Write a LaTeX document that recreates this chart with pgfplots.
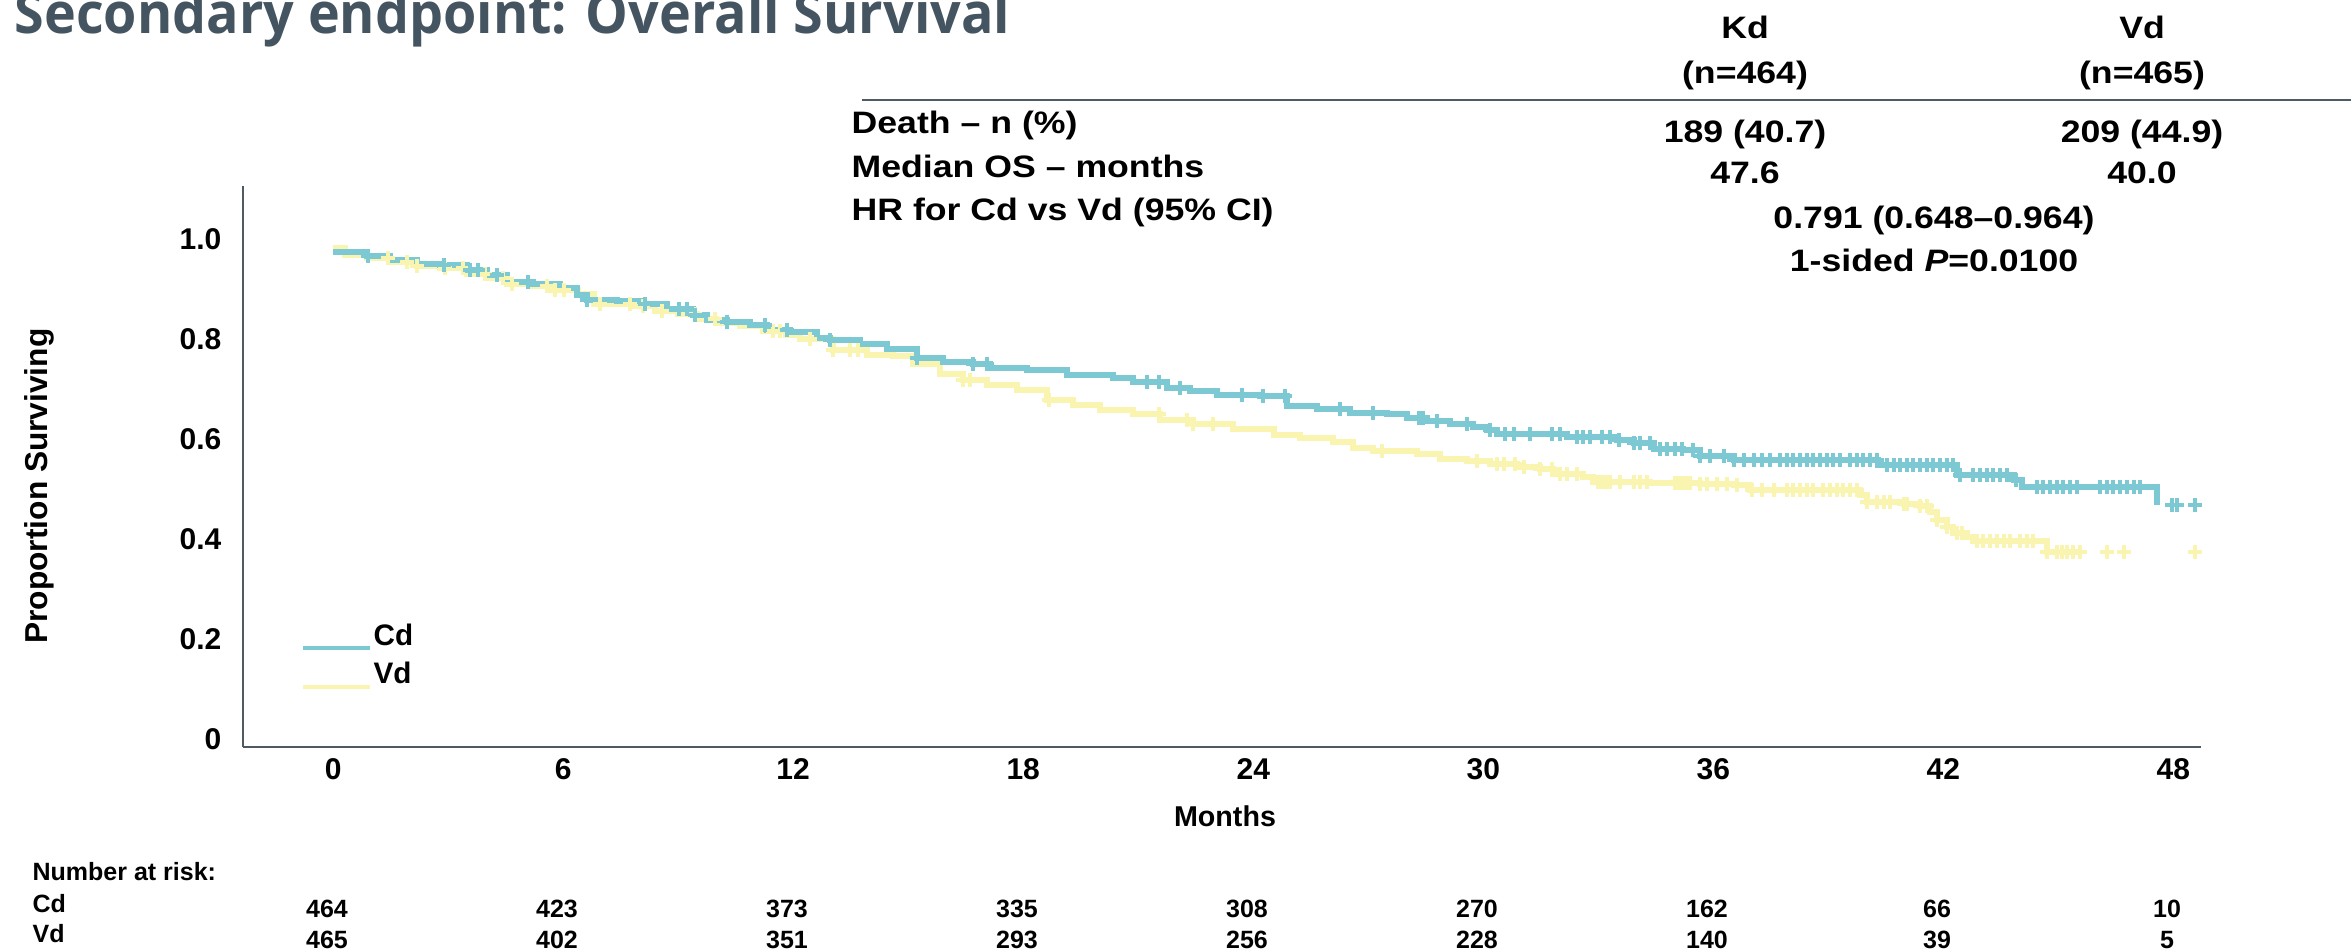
\documentclass[border=0pt]{standalone}
\usepackage{fontspec}
\setmainfont{Liberation Sans}
\newfontfamily\titlefont[FakeStretch=0.95]{Open Sans}
\newfontfamily\tablefont[FakeStretch=1.15]{Liberation Sans}
\usepackage{pgfplots}
\pgfplotsset{compat=1.18}
\usepackage{pgfplotstable}
\definecolor{cdcol}{RGB}{125,201,211}
\definecolor{vdcol}{RGB}{249,245,176}
\definecolor{axiscol}{RGB}{78,90,100}
\definecolor{titlecol}{RGB}{68,84,96}

\pgfplotstableread{
m S
0 0.991
0.88 0.982
1.49 0.975
2.18 0.967
2.79 0.964
3.49 0.954
4.01 0.944
4.53 0.931
5.22 0.927
5.92 0.919
6.36 0.904
6.62 0.895
7.40 0.893
8.09 0.886
8.70 0.877
9.40 0.864
9.75 0.855
10.27 0.851
10.88 0.844
11.31 0.835
11.92 0.831
12.62 0.819
12.96 0.815
13.75 0.807
14.44 0.797
15.22 0.779
15.92 0.771
16.70 0.767
17.14 0.759
18.09 0.754
19.13 0.744
20.35 0.739
20.87 0.731
21.74 0.719
22.35 0.713
23.05 0.704
24.18 0.702
24.87 0.682
25.66 0.677
26.53 0.669
27.48 0.667
28.00 0.659
28.53 0.653
29.13 0.647
29.74 0.641
30.09 0.635
30.35 0.626
32.18 0.621
33.48 0.614
33.92 0.609
34.44 0.597
35.22 0.594
35.66 0.582
36.53 0.574
40.30 0.564
42.35 0.544
43.83 0.534
44.04 0.521
47.57 0.484
}\cdcurve

\pgfplotstableread{
m S
0.92 0.982
2.88 0.964
3.57 0.954
3.79 0.954
4.27 0.944
5.09 0.931
6.62 0.895
8.14 0.886
9.01 0.877
9.22 0.877
9.44 0.864
10.27 0.851
11.27 0.844
11.83 0.835
12.96 0.815
15.22 0.779
16.70 0.767
17.05 0.767
21.22 0.731
21.55 0.731
22.09 0.719
23.70 0.704
24.26 0.702
24.83 0.702
26.26 0.677
27.13 0.669
28.31 0.659
28.44 0.659
28.79 0.653
29.57 0.647
30.18 0.635
30.57 0.626
30.79 0.626
31.22 0.626
31.79 0.626
32.00 0.626
32.44 0.621
32.61 0.621
32.79 0.621
33.09 0.621
33.30 0.621
33.55 0.614
33.92 0.609
34.10 0.609
34.35 0.609
34.60 0.597
34.80 0.597
35.00 0.597
35.17 0.597
35.48 0.594
35.66 0.582
35.92 0.582
36.27 0.582
36.53 0.574
36.79 0.574
37.05 0.574
37.27 0.574
37.49 0.574
37.75 0.574
37.92 0.574
38.09 0.574
38.26 0.574
38.44 0.574
38.61 0.574
38.78 0.574
38.96 0.574
39.13 0.574
39.30 0.574
39.57 0.574
39.74 0.574
39.91 0.574
40.09 0.574
40.26 0.574
40.52 0.564
40.70 0.564
40.87 0.564
41.04 0.564
41.22 0.564
41.39 0.564
41.57 0.564
41.74 0.564
41.91 0.564
42.09 0.564
42.26 0.564
42.43 0.544
42.78 0.544
42.96 0.544
43.13 0.544
43.30 0.544
43.48 0.544
43.65 0.544
43.90 0.534
44.43 0.521
44.61 0.521
44.78 0.521
44.96 0.521
45.13 0.521
45.30 0.521
45.48 0.521
46.09 0.521
46.26 0.521
46.43 0.521
46.61 0.521
46.78 0.521
46.96 0.521
47.13 0.521
47.96 0.484
48.09 0.484
48.56 0.484
}\cdcens

\pgfplotstableread{
m S
0 0.998
0.30 0.985
0.88 0.978
1.49 0.970
2.18 0.962
2.79 0.958
3.49 0.947
4.01 0.938
4.53 0.926
5.22 0.922
5.70 0.914
6.40 0.906
6.80 0.886
7.80 0.882
8.40 0.872
9.00 0.866
9.50 0.856
10.00 0.848
10.60 0.842
11.20 0.832
11.80 0.825
12.18 0.817
13.04 0.794
13.92 0.785
14.61 0.782
15.13 0.767
15.83 0.747
16.44 0.735
17.05 0.724
17.83 0.714
18.61 0.694
19.31 0.684
20.00 0.674
20.87 0.667
21.57 0.654
22.44 0.647
23.48 0.637
24.53 0.624
25.22 0.619
26.09 0.611
26.61 0.599
27.13 0.593
28.27 0.586
28.87 0.577
29.57 0.573
30.18 0.567
30.87 0.561
31.48 0.557
31.83 0.547
32.61 0.541
32.87 0.531
34.35 0.529
35.66 0.527
36.53 0.524
36.96 0.514
39.83 0.504
40.00 0.491
40.96 0.487
41.39 0.482
41.65 0.471
41.83 0.454
42.09 0.441
42.26 0.429
42.61 0.421
42.78 0.413
44.70 0.391
45.60 0.391
}\vdcurve

\pgfplotstableread{
m S
1.44 0.978
1.92 0.970
2.18 0.962
2.92 0.958
3.40 0.958
3.96 0.947
4.44 0.938
4.66 0.926
5.57 0.922
5.79 0.914
6.01 0.914
6.96 0.886
7.75 0.886
8.09 0.882
8.57 0.872
9.44 0.866
9.96 0.856
11.48 0.832
11.66 0.832
12.44 0.817
13.04 0.794
13.48 0.794
13.70 0.794
16.44 0.735
16.61 0.735
18.66 0.694
21.53 0.667
22.27 0.654
22.44 0.647
22.96 0.647
27.35 0.593
29.83 0.573
30.35 0.567
30.53 0.567
30.83 0.567
31.05 0.561
31.48 0.557
31.79 0.557
32.00 0.547
32.18 0.547
32.44 0.547
33.00 0.531
33.10 0.531
33.20 0.531
33.30 0.531
33.57 0.531
33.92 0.531
34.10 0.531
34.27 0.531
35.00 0.529
35.10 0.529
35.20 0.529
35.30 0.529
35.40 0.529
35.66 0.527
35.83 0.527
36.09 0.527
36.35 0.527
36.61 0.524
37.00 0.514
37.27 0.514
37.57 0.514
37.91 0.514
38.09 0.514
38.26 0.514
38.44 0.514
38.61 0.514
38.87 0.514
39.04 0.514
39.22 0.514
39.39 0.514
39.57 0.514
39.74 0.514
40.00 0.491
40.26 0.491
40.44 0.491
40.61 0.491
40.96 0.487
41.04 0.487
41.39 0.482
41.57 0.482
41.83 0.454
42.09 0.441
42.35 0.429
42.48 0.429
42.87 0.413
43.04 0.413
43.22 0.413
43.39 0.413
43.57 0.413
43.74 0.413
44.00 0.413
44.17 0.413
44.35 0.413
44.70 0.391
44.96 0.391
45.09 0.391
45.22 0.391
45.39 0.391
45.57 0.391
46.26 0.391
46.70 0.391
48.56 0.391
}\vdcens

\begin{document}
\begin{tikzpicture}
\useasboundingbox (0,0) rectangle (705.3pt,-285pt);
\begin{axis}[
  at={(72.9pt,-224.1pt)}, anchor=south west,
  scale only axis, width=587.4pt, height=168.3pt,
  xmin=-2.35, xmax=48.72, ymin=0, ymax=1.122,
  axis x line=bottom, axis y line=left,
  axis line style={-, draw=axiscol, line width=0.8pt},
  xtick={0,6,12,18,24,30,36,42,48},
  xticklabels={0,6,12,18,24,30,36,42,48},
  ytick={0,0.2,0.4,0.6,0.8,1.0},
  yticklabels={0,0.2,0.4,0.6,0.8,1.0},
  major tick length=0pt,
  tick style={draw=none},
  xticklabel style={font=\bfseries\fontsize{9}{10}\selectfont, anchor=north, inner sep=0pt, yshift=-3.3pt},
  yticklabel style={font=\bfseries\fontsize{9}{10}\selectfont, anchor=east, inner sep=0pt, xshift=-6.3pt, yshift=2.4pt},
]
\addplot[vdcol, line width=1.8pt, const plot, mark=none] table[x=m,y=S] {\vdcurve};
\addplot[vdcol, only marks, mark=+, mark size=2.1pt, mark options={line width=1.2pt}] table[x=m,y=S] {\vdcens};
\addplot[cdcol, line width=1.8pt, const plot, mark=none] table[x=m,y=S] {\cdcurve};
\addplot[cdcol, only marks, mark=+, mark size=2.1pt, mark options={line width=1.2pt}] table[x=m,y=S] {\cdcens};
\end{axis}
\begin{scope}[x=0.3pt,y=-0.3pt]
% title (cut off at the top, as in the original slide)
\node[anchor=base west, inner sep=0pt, text=titlecol, font=\titlefont\bfseries\fontsize{17}{19}\selectfont] at (14,33) {Secondary endpoint: Overall Survival};
% table
\begin{scope}[every node/.style={inner sep=0pt, font=\tablefont\bfseries\fontsize{9.3}{11}\selectfont}]
\node[anchor=base] at (1745,38) {Kd};
\node[anchor=base] at (1745,83) {(n=464)};
\node[anchor=base] at (2142,38) {Vd};
\node[anchor=base] at (2142,83) {(n=465)};
\node[anchor=base west] at (851,133) {Death \textendash{} n (\%)};
\node[anchor=base west] at (851,177) {Median OS \textendash{} months};
\node[anchor=base west] at (851,220) {HR for Cd vs Vd (95\% CI)};
\node[anchor=base] at (1745,142) {189 (40.7)};
\node[anchor=base] at (2142,142) {209 (44.9)};
\node[anchor=base] at (1745,183) {47.6};
\node[anchor=base] at (2142,183) {40.0};
\node[anchor=base] at (1934,228) {0.791 (0.648\textendash0.964)};
\node[anchor=base] at (1934,271) {1-sided \textit{P}=0.0100};
\end{scope}
\draw[axiscol, line width=0.8pt] (862,100) -- (2351,100);
% axis titles
\node[rotate=90, anchor=base, inner sep=0pt, font=\bfseries\fontsize{9.5}{11}\selectfont] at (47,486) {Proportion Surviving};
\node[anchor=base, inner sep=0pt, font=\bfseries\fontsize{8.6}{10}\selectfont] at (1225,826) {Months};
% legend
\draw[cdcol, line width=1.4pt] (303,648) -- (370,648);
\draw[vdcol, line width=1.4pt] (303,687) -- (370,687);
\node[anchor=base west, inner sep=0pt, font=\bfseries\fontsize{8.9}{10}\selectfont] at (373,645) {Cd};
\node[anchor=base west, inner sep=0pt, font=\bfseries\fontsize{8.9}{10}\selectfont] at (373,683) {Vd};
% number at risk
\begin{scope}[every node/.style={inner sep=0pt, font=\bfseries\fontsize{7.5}{9}\selectfont}]
\node[anchor=base west] at (32,880) {Number at risk:};
\node[anchor=base west] at (32,912) {Cd};
\node[anchor=base west] at (32,942) {Vd};
\foreach \k/\a/\b in {0/464/465,1/423/402,2/373/351,3/335/293,4/308/256,5/270/228,6/162/140,7/66/39,8/10/5}{
  \node[anchor=base] at ({327+230*\k},917) {\a};
  \node[anchor=base] at ({327+230*\k},948) {\b};
}
\end{scope}
\end{scope}
\end{tikzpicture}
\end{document}
